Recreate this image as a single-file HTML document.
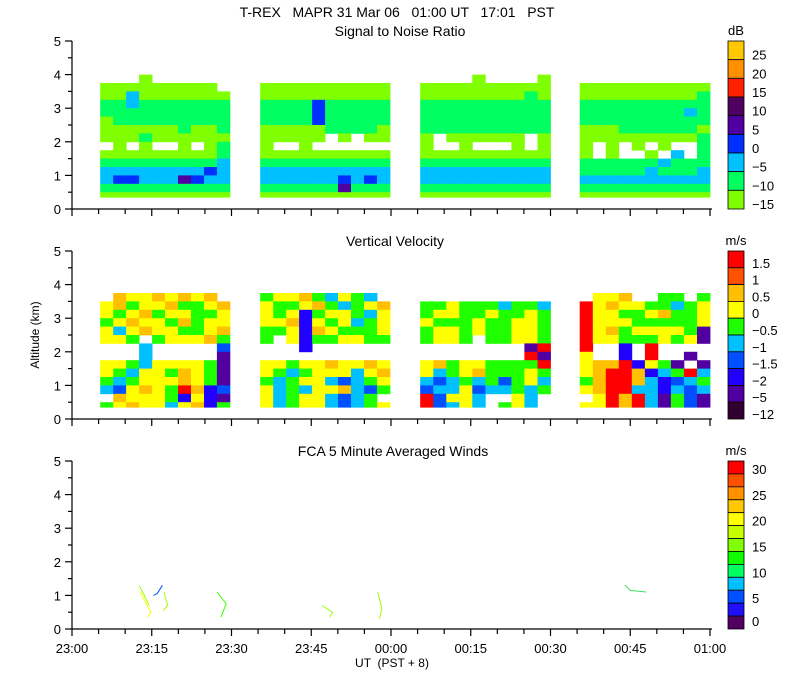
<!DOCTYPE html>
<html><head><meta charset="utf-8">
<style>
html,body{margin:0;padding:0;background:#fff;}
svg{display:block;font-family:"Liberation Sans",sans-serif;}
text{font-size:13px;fill:#000;}
</style></head>
<body>
<svg id="chart" width="800" height="700" viewBox="0 0 800 700" xmlns="http://www.w3.org/2000/svg">
<text x="397" y="17" text-anchor="middle" style="font-size:14px" xml:space="preserve">T-REX   MAPR 31 Mar 06   01:00 UT   17:01   PST</text>
<text x="400" y="36" text-anchor="middle" style="font-size:14px">Signal to Noise Ratio</text>
<text x="395" y="246" text-anchor="middle" style="font-size:14px">Vertical Velocity</text>
<text x="393" y="456" text-anchor="middle" style="font-size:14px">FCA 5 Minute Averaged Winds</text>
<text x="0" y="0" transform="translate(39,335) rotate(-90)" text-anchor="middle" style="font-size:12px">Altitude (km)</text>
<text x="392" y="667" text-anchor="middle" style="font-size:12px" xml:space="preserve">UT  (PST + 8)</text>
<g id="layer"></g>
</svg>
<script>
// ---- data ----
const segStart = [5.3, 35.4, 65.5, 95.5];   // minutes after 23:00
const segEnd   = [29.7, 59.8, 90.0, 120.0];
const rowBottoms = [3.75,3.5,3.25,3.0,2.75,2.5,2.25,2.0,1.75,1.5,1.25,1.0,0.75,0.5,0.35];
const rowTops    = [4.0,3.75,3.5,3.25,3.0,2.75,2.5,2.25,2.0,1.75,1.5,1.25,1.0,0.75,0.5];
const snrRows = [
["...a......","..........","....a....a",".........."],
["aaaaaaaaa.","aaaaaaaaaa","aaaaaaaaaa","aaaaaaaaaa"],
["aacaaaaaaa","aaaaaaaaaa","aaaaaaaaba","aaaaaaaaab"],
["bbcbbbbbbb","bbbbdbbbbb","bbbbbbbbbb","bbbbbbbbbb"],
["bbbbbbbbbb","bbbbdbbbbb","bbbbbbbbbb","bbbbbbbbcb"],
["abbbbbbbbb","bbbbdbbbbb","bbbbbbbbbb","bbbbbbbbbb"],
["aaaaaabaab","aaaaabbbba","bbbbbbbbbb","aaabbbbbba"],
["aaabaaaaaa","aaaaa.a.aa","a.aaaaaa.a","aaaaaaaaab"],
[".a.a..a.ab","a..a......","a..a...a.a","a.a.a.a..b"],
["aaaaaaaaab","aaaaaaaaaa","aaaaaaaaaa","a.a..a.c.b"],
["bbbbbbbbbc","bbbbbbbbbb","bbbbbbbbbb","bbbbbbcbbb"],
["ccccccccdc","cccccccccc","cccccccccc","bbbbbcbbbc"],
["cddcccedcc","ccccccdcdc","cccccccccc","cccccccccc"],
["bbbbbbbbbb","bbbbbbebbb","bbbbbbbbbb","bbbbbbbbbb"],
["aaaaaaaaaa","aaaaaaaaaa","aaaaaaaaaa","aaaaaaaaaa"]
];
const velRows = [
["..........","..........","..........",".........."],
[".oyyoyoyo.","gyyogcygc.","..........",".yyo..gg.g"],
["yogyyoggyo","yggyogcgyo","ggygggcggc","ryoyyggcgy"],
["ygyogyyggy","ygyegyygcy","gyyggyggyg","ryyggyoggy"],
["gyoyygogyy","yyoeygycgy","ygggyggyyg","ryyygggggy"],
["ycyoyyggyo","ggyeoygggy","gyygyggyyg","ryogyyyygp"],
["yyg.gyyyog","g.yeggyygg","gyyg.ggyyg","ryygggygyp"],
["...c.....b","...e......","........pr","r..e.r...."],
["...c.....p","..........","........rp","y..e.r..p."],
["yygcyyyygp","yygyyoyyoy","yogyyggggr","yooreygp.p"],
["ygcyygoygp","ygcgyyycyo","ycgyogggyg","yorroecgrc"],
["gcgyyyoygp","gcgyycbcgy","cbcgcgbgyc","gorrocebcg"],
["cbyoygroeb","ycgcyyocbg","bccybccgcg","yorrccecbc"],
[".oyyygeyep","ycgyycbcg.","rbyyc..yc.",".yrorcpgbp"],
["gyoyycyoeg","ycgyycbcgy","rbcyc.gyc.","yyrorcpgbp"]
];
const snrColors = {a:"#80ff00",b:"#00ff60",c:"#00c0ff",d:"#0030ff",e:"#5000a0"};
const velColors = {y:"#ffff00",g:"#20ff00",o:"#ffc000",c:"#00c0ff",b:"#0050ff",r:"#ff0000",e:"#2000ff",p:"#5000a0"};
const snrBar = ["#ffc800","#ff9000","#ff2000","#500060","#5000a0","#0030ff","#00c0ff","#00ff60","#80ff00"];
const snrTicks = ["25","20","15","10","5","0","\u22125","\u221210","\u221215"];
const velBar = ["#ff0000","#ff5000","#ffc000","#ffff00","#20ff00","#00c0ff","#0050ff","#2000ff","#5000a0","#300030"];
const velTicks = ["1.5","1","0.5","0","\u22120.5","\u22121","\u22121.5","\u22122","\u22125","\u221212"];
const windBar = ["#ff0000","#ff5000","#ff9000","#ffc800","#ffff00","#c8ff00","#80ff00","#10ff00","#00ff60","#00c0ff","#0050ff","#2010ff","#500060"];
const windTicks = ["30","25","20","15","10","5","0"];
const windTraceColors = ["#a0ff00","#ffff00","#0050ff","#a0ff00","#40ff00","#a0ff00","#a0ff00","#40e060"];
const windTraceMin = [[12.6,13.6,14.5],[12.8,13.8,14.8,14.2],[15.3,16.0,17.0],[17.3,18.0,17.2],[27.3,29.0,28.0],[47.0,49.0,48.5],[57.5,58.3,57.8],[104,105,108]];
const windTraceAlt = [[1.3,1.0,0.7],[1.1,0.8,0.5,0.35],[1.0,1.05,1.3],[1.1,0.7,0.55],[1.1,0.75,0.35],[0.7,0.5,0.35],[1.1,0.6,0.3],[1.3,1.15,1.1]];
const xTickLabels = ["23:00","23:15","23:30","23:45","00:00","00:15","00:30","00:45","01:00"];
const yTickLabels = ["0","1","2","3","4","5"];

// ---- axes ----
const X0=72, X1=710;
const panelBottom=[209,419,629], panelTop=[41,251,461];
const xs = m => X0 + m*(X1-X0)/120;
const ys = (p,a) => panelBottom[p] - a*(panelBottom[p]-panelTop[p])/5;
const NS="http://www.w3.org/2000/svg";
const layer=document.getElementById('layer');
function mk(tag,attrs,parent){const e=document.createElementNS(NS,tag);for(const k in attrs)e.setAttribute(k,attrs[k]);(parent||layer).appendChild(e);return e;}

function drawGrid(p,rows,colors,name){
  const g=mk('g',{});
  
  
  rows.forEach((row,ri)=>{
    for(let s=0;s<4;s++){
      const w=(segEnd[s]-segStart[s])/10;
      const seg=row[s];
      for(let c=0;c<10;c++){
        const ch=seg[c];
        if(!ch||!colors[ch])continue;
        const x=xs(segStart[s]+c*w), x2=xs(segStart[s]+(c+1)*w);
        const yT=ys(p,rowTops[ri]), yB=ys(p,rowBottoms[ri]);
        const r=mk('rect',{x:x.toFixed(1),y:yT.toFixed(1),width:(x2-x+0.4).toFixed(1),height:(yB-yT+0.4).toFixed(1),fill:colors[ch]},g);
        
        
      }
    }
  });
}
drawGrid(0,snrRows,snrColors,'snr-field');
drawGrid(1,velRows,velColors,'velocity-field');

// wind traces
windTraceMin.forEach((ms,i)=>{
  const pts=ms.map((m,j)=>xs(m).toFixed(1)+','+ys(2,windTraceAlt[i][j]).toFixed(1)).join(' ');
  const pl=mk('polyline',{points:pts,fill:'none',stroke:windTraceColors[i],'stroke-width':1});
  
  
});

// axes
for(let p=0;p<3;p++){
  const g=mk('g',{stroke:'#000','stroke-width':1.2});
  
  
  mk('line',{x1:X0,y1:panelTop[p],x2:X0,y2:panelBottom[p]},g);
  mk('line',{x1:X0,y1:panelBottom[p],x2:X1+2,y2:panelBottom[p]},g);
  for(let k=0;k<=10;k++){
    const y=ys(p,k/2);
    mk('line',{x1:X0-(k%2?4:7),y1:y,x2:X0,y2:y},g);
  }
  yTickLabels.forEach((t,k)=>{
    const tx=mk('text',{x:X0-11,y:ys(p,k)+5,'text-anchor':'end',stroke:'none'});
    tx.textContent=t;
    
    
  });
  for(let m=0;m<=120;m+=5){
    const x=xs(m);
    mk('line',{x1:x,y1:panelBottom[p],x2:x,y2:panelBottom[p]+(m%15===0?7:5)},g);
  }
}
xTickLabels.forEach((t,k)=>{
  const tx=mk('text',{x:xs(k*15),y:653,'text-anchor':'middle'});
  tx.textContent=t;
  
  
});

// colorbars
function colorbar(p,cols,ticks,unit,every,name){
  const g=mk('g',{});
  
  
  const top=panelTop[p],bot=panelBottom[p],h=(bot-top)/cols.length;
  cols.forEach((c,i)=>{
    mk('rect',{x:728,y:top+i*h,width:16,height:h,fill:c,stroke:'#000','stroke-width':0.8},g);
  });
  ticks.forEach((t,i)=>{
    const yb=top+(i*every+1)*h;
    const tx=mk('text',{x:752,y:yb+(i===ticks.length-1&&every>1?-3:0),'font-size':'13'},g);
    tx.textContent=t;
    
    
  });
  const u=mk('text',{x:736,y:top-6,'text-anchor':'middle'},g);
  u.textContent=unit;
  
  
}
colorbar(0,snrBar,snrTicks,'dB',1,'snr-colorbar');
colorbar(1,velBar,velTicks,'m/s',1,'velocity-colorbar');
colorbar(2,windBar,windTicks,'m/s',2,'winds-colorbar');
</script>
</body></html>
